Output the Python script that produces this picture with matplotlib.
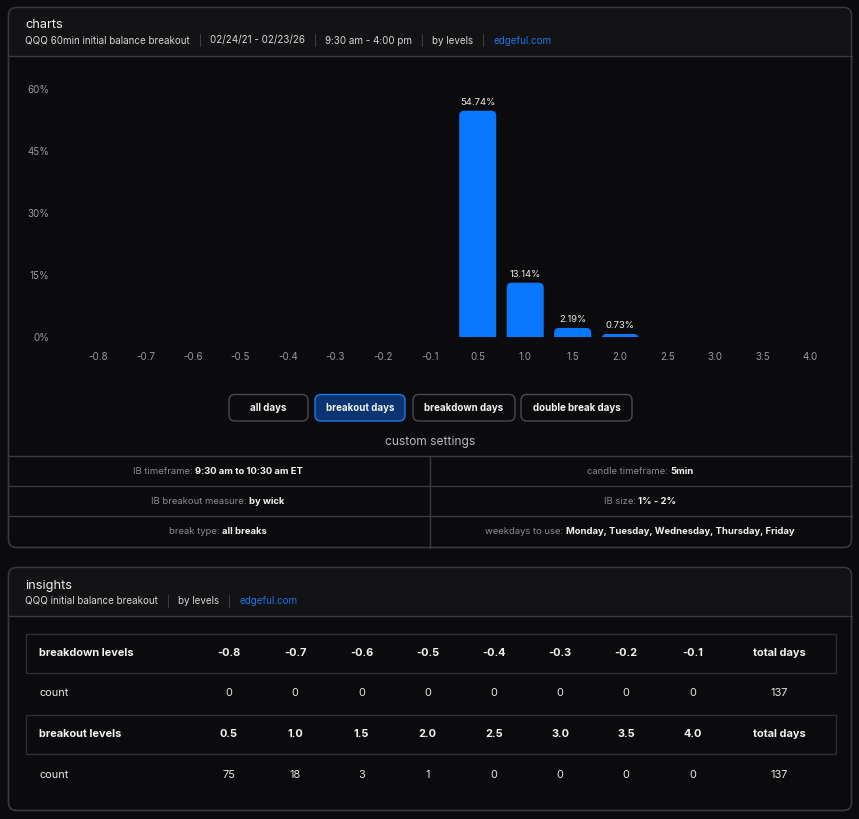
import matplotlib
matplotlib.use("Agg")
import matplotlib.pyplot as plt
from matplotlib.patches import FancyBboxPatch, Rectangle

# ---------------- data ----------------
levels = ["-0.8", "-0.7", "-0.6", "-0.5", "-0.4", "-0.3", "-0.2", "-0.1",
          "0.5", "1.0", "1.5", "2.0", "2.5", "3.0", "3.5", "4.0"]
pct_values = [0, 0, 0, 0, 0, 0, 0, 0,
              54.74, 13.14, 2.19, 0.73, 0, 0, 0, 0]
y_ticks = [0, 15, 30, 45, 60]
y_tick_labels = ["0%", "15%", "30%", "45%", "60%"]

breakdown_levels = ["-0.8", "-0.7", "-0.6", "-0.5", "-0.4", "-0.3", "-0.2", "-0.1"]
breakdown_counts = [0, 0, 0, 0, 0, 0, 0, 0]
breakout_levels = ["0.5", "1.0", "1.5", "2.0", "2.5", "3.0", "3.5", "4.0"]
breakout_counts = [75, 18, 3, 1, 0, 0, 0, 0]
total_days = 137

buttons = ["all days", "breakout days", "breakdown days", "double break days"]
active_button = "breakout days"

settings = [
    ("IB timeframe: ", "9:30 am to 10:30 am ET", "candle timeframe: ", "5min"),
    ("IB breakout measure: ", "by wick", "IB size: ", "1% - 2%"),
    ("break type: ", "all breaks", "weekdays to use: ", "Monday, Tuesday, Wednesday, Thursday, Friday"),
]

chart_subtitle = ["QQQ 60min initial balance breakout", "02/24/21 - 02/23/26",
                  "9:30 am - 4:00 pm", "by levels"]
insight_subtitle = ["QQQ initial balance breakout", "by levels"]
link_text = "edgeful.com"

# ---------------- style ----------------
W, H = 859, 819
BG = "#0b0b0d"
HEAD = "#131315"
BORDER = "#3a3a3c"
INNER = "#2e2e30"
BLUE = "#0a77ff"
LINK = "#1a73e8"
FONT = ["Inter", "DejaVu Sans"]
plt.rcParams["font.family"] = FONT

fig = plt.figure(figsize=(W / 100, H / 100), dpi=100, facecolor=BG)
ax0 = fig.add_axes([0, 0, 1, 1])
ax0.set_xlim(0, W)
ax0.set_ylim(H, 0)
ax0.axis("off")
ax0.set_facecolor(BG)
renderer = fig.canvas.get_renderer()


def width_of(t):
    return t.get_window_extent(renderer).width


def txt(x, y, s, size=7.5, color="#e6e6e6", weight="normal", ha="left", va="center"):
    return ax0.text(x, y, s, fontsize=size, color=color, fontweight=weight,
                    ha=ha, va=va)


def seq_line(x, y, parts, size=7.1, gap=8.5):
    """parts: list of (text, color). Separators drawn between."""
    cur = x
    for i, (s, c) in enumerate(parts):
        t = txt(cur, y, s, size=size, color=c)
        cur += width_of(t)
        if i < len(parts) - 1:
            cur += gap
            t2 = txt(cur, y, "|", size=size, color="#4a4a4c")
            cur += width_of(t2) + gap


def centered_pair(xc, y, label, value, size=6.8):
    t1 = txt(0, y, label, size=size, color="#8c8c8e")
    t2 = txt(0, y, value, size=size, color="#f2f2f2", weight="bold")
    w1, w2 = width_of(t1), width_of(t2)
    start = xc - (w1 + w2) / 2
    t1.set_x(start)
    t2.set_x(start + w1)


def panel(x0, y0, x1, y1, head_bottom):
    p = FancyBboxPatch((x0, y0), x1 - x0, y1 - y0,
                       boxstyle="round,pad=0,rounding_size=8",
                       fc=BG, ec=BORDER, lw=1.0, zorder=1)
    ax0.add_patch(p)
    hr = Rectangle((x0, y0), x1 - x0, head_bottom - y0, fc=HEAD, ec="none", zorder=1.1)
    ax0.add_patch(hr)
    hr.set_clip_path(p)
    ax0.plot([x0, x1], [head_bottom, head_bottom], color=BORDER, lw=1.0, zorder=1.2)
    p2 = FancyBboxPatch((x0, y0), x1 - x0, y1 - y0,
                        boxstyle="round,pad=0,rounding_size=8",
                        fc="none", ec=BORDER, lw=1.0, zorder=1.3)
    ax0.add_patch(p2)


# ---------------- panel 1 ----------------
panel(8.5, 7.5, 851.5, 547.5, 56)
txt(25, 25, "charts", size=9.2, color="#ececec")
seq_line(25, 40.5, [(s, "#d6d6d6") for s in chart_subtitle] + [(link_text, LINK)])

# chart axes
px_per_unit = 47.47
left_px = 98 - 0.5 * px_per_unit
right_px = 810 + 0.5 * px_per_unit
top_px, bot_px = 89, 337
ax = fig.add_axes([left_px / W, 1 - bot_px / H, (right_px - left_px) / W, (bot_px - top_px) / H])
ax.set_facecolor("none")
ax.set_xlim(-0.5, len(levels) - 0.5)
ax.set_ylim(0, 60)
for sp in ax.spines.values():
    sp.set_visible(False)
ax.set_yticks(y_ticks)
ax.set_yticklabels(y_tick_labels)
ax.set_xticks(range(len(levels)))
ax.set_xticklabels(levels)
ax.tick_params(axis="both", length=0, colors="#9a9a9c", labelsize=7)
ax.tick_params(axis="y", pad=18)
ax.tick_params(axis="x", pad=10.5)

bar_w = 0.78
y_per_px = 60 / (bot_px - top_px)
aspect = px_per_unit * y_per_px
r_units = 5 / px_per_unit
for i, v in enumerate(pct_values):
    if v <= 0:
        continue
    bottom = -10 * y_per_px
    bp = FancyBboxPatch((i - bar_w / 2, bottom), bar_w, v - bottom,
                        boxstyle=f"round,pad=0,rounding_size={r_units}",
                        mutation_aspect=aspect, fc=BLUE, ec="none", zorder=2)
    ax.add_patch(bp)
    ax.text(i, v + 2.0, f"{v:.2f}%", ha="center", va="center", fontsize=6.8,
            color="#ececec", clip_on=False)

# buttons
btn_boxes = [(229, 308), (315, 405), (413, 515), (521, 632)]
for name, (bx0, bx1) in zip(buttons, btn_boxes):
    active = name == active_button
    bp = FancyBboxPatch((bx0, 394.5), bx1 - bx0, 26.5,
                        boxstyle="round,pad=0,rounding_size=6",
                        fc="#0a3570" if active else BG,
                        ec="#1e78f0" if active else "#4a4a4c", lw=1.0, zorder=2)
    ax0.add_patch(bp)
    txt((bx0 + bx1) / 2, 408, name, size=7, color="#f4f4f4", weight="bold", ha="center")

txt(430, 442, "custom settings", size=8.6, color="#b8b8ba", ha="center")

# settings grid
for yl in (456, 486, 516):
    ax0.plot([8.5, 851.5], [yl, yl], color=BORDER, lw=1.0, zorder=1.5)
ax0.plot([430, 430], [456, 547.5], color=BORDER, lw=1.0, zorder=1.5)
for k, (l1, v1, l2, v2) in enumerate(settings):
    yc = 471 + 30 * k
    centered_pair(218, yc, l1, v1)
    centered_pair(640, yc, l2, v2)

# ---------------- panel 2 ----------------
panel(8.5, 567.5, 851.5, 810.5, 616)
txt(25, 586, "insights", size=9.2, color="#ececec")
seq_line(25, 601, [(s, "#d6d6d6") for s in insight_subtitle] + [(link_text, LINK)])

col_x = [229 + 66.2 * i for i in range(8)]
total_x = 779


def table_block(y_top, title, lvls, counts):
    rect = Rectangle((25.5, y_top), 810, 39, fc=BG, ec=INNER, lw=1.0, zorder=2)
    ax0.add_patch(rect)
    yh = y_top + 19.5
    txt(39, yh, title, size=7.9, color="#f2f2f2", weight="bold")
    for x, l in zip(col_x, lvls):
        txt(x, yh, l, size=7.9, color="#f2f2f2", weight="bold", ha="center")
    txt(total_x, yh, "total days", size=7.9, color="#f2f2f2", weight="bold", ha="center")
    yc = yh + 40.5
    txt(39, yc, "count", size=7.9, color="#e6e6e6")
    for x, c in zip(col_x, counts):
        txt(x, yc, str(c), size=7.9, color="#e6e6e6", ha="center")
    txt(total_x, yc, str(total_days), size=7.9, color="#e6e6e6", ha="center")


table_block(633.5, "breakdown levels", breakdown_levels, breakdown_counts)
table_block(714.5, "breakout levels", breakout_levels, breakout_counts)

fig.savefig("out.png", dpi=100, facecolor=BG)
